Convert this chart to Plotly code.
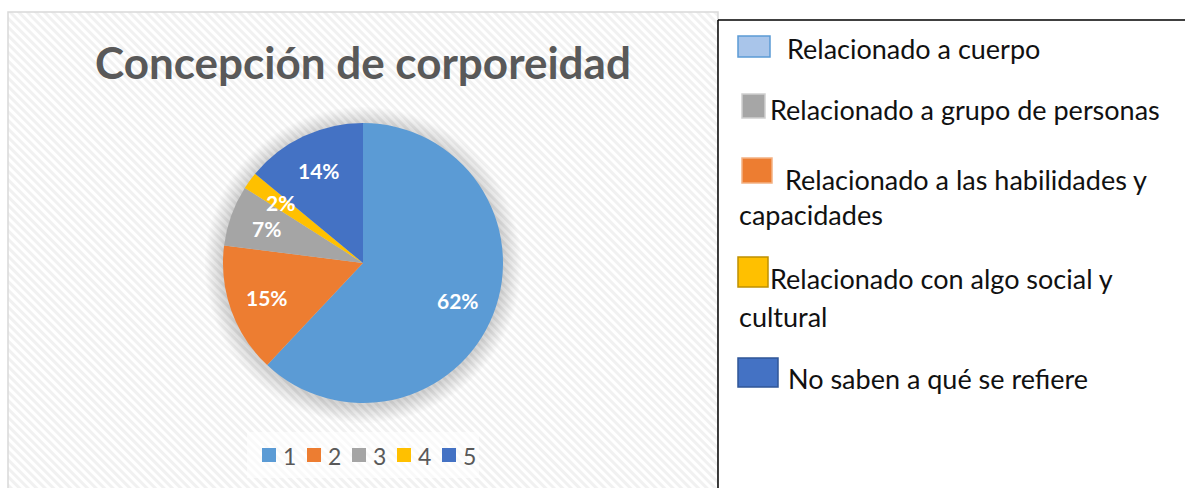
import base64
import math
import plotly.graph_objects as go

# ---------------- data ----------------
categories = ["1", "2", "3", "4", "5"]
values = [62, 15, 7, 2, 14]
colors = ["#5B9BD5", "#ED7D31", "#A5A5A5", "#FFC000", "#4472C4"]
title_text = "Concepción de corporeidad"
# right-hand key: text lines per entry (in display order)
key_texts = [
    ["Relacionado a cuerpo"],
    ["Relacionado a grupo de personas"],
    ["Relacionado a las habilidades y", "capacidades"],
    ["Relacionado con algo social y", "cultural"],
    ["No saben a qué se refiere"],
]
key_fills = ["#A9C5EA", "#A6A6A6", "#ED7D31", "#FFC000", "#4472C4"]
key_borders = ["#5B9BD5", "#D0D0D0", "#F4B183", "#BF9000", "#2F5597"]

# ---------------- geometry helpers ----------------
W, H = 1185, 488


def px(x):
    return x / W


def py(y):
    return 1 - y / H


cx, cy, r = 363, 263, 140
box_l, box_t, box_r = 8, 12, 718
font_fam = "Lato, 'Open Sans', sans-serif"

fig = go.Figure(
    go.Pie(
        labels=categories,
        values=values,
        sort=False,
        direction="clockwise",
        rotation=0,
        marker=dict(colors=colors, line=dict(width=0)),
        textinfo="none",
        hoverinfo="label+percent",
        showlegend=False,
        domain=dict(x=[px(cx - r), px(cx + r)], y=[py(cy + r), py(cy - r)]),
    )
)

# striped background for chart area
bw, bh = box_r - box_l, H - box_t
svg = (
    f'<svg xmlns="http://www.w3.org/2000/svg" width="{bw}" height="{bh}">'
    '<defs><pattern id="p" width="6" height="6" patternUnits="userSpaceOnUse" '
    'patternTransform="rotate(-45)">'
    '<rect width="6" height="6" fill="#ffffff"/>'
    '<rect width="3" height="6" fill="#f1f1f1"/></pattern></defs>'
    '<rect width="100%" height="100%" fill="url(#p)"/></svg>'
)
src = "data:image/svg+xml;base64," + base64.b64encode(svg.encode()).decode()
images = [
    dict(
        source=src, xref="paper", yref="paper",
        x=px(box_l), y=py(box_t), sizex=bw / W, sizey=bh / H,
        xanchor="left", yanchor="top", sizing="stretch", layer="below",
    )
]

shapes = []
# soft shadow around the pie
for k in range(1, 15):
    rr = r + k * 1.3
    shapes.append(dict(
        type="circle", xref="paper", yref="paper",
        x0=px(cx - rr), x1=px(cx + rr), y0=py(cy + rr + 2), y1=py(cy - rr + 2),
        fillcolor="rgba(0,0,0,0.011)", line=dict(width=0), layer="below",
    ))
# chart area border
shapes.append(dict(
    type="rect", xref="paper", yref="paper",
    x0=px(box_l), x1=px(box_r), y0=py(H + 5), y1=py(box_t),
    line=dict(color="#D9D9D9", width=1.5), fillcolor="rgba(0,0,0,0)", layer="above",
))
# right table
shapes.append(dict(type="rect", xref="paper", yref="paper",
                   x0=px(box_r), x1=px(W + 5), y0=py(H + 5), y1=py(20),
                   fillcolor="white", line=dict(width=0), layer="above"))
shapes.append(dict(type="line", xref="paper", yref="paper",
                   x0=px(box_r), x1=px(W + 5), y0=py(20), y1=py(20),
                   line=dict(color="black", width=1.5), layer="above"))
shapes.append(dict(type="line", xref="paper", yref="paper",
                   x0=px(box_r), x1=px(box_r), y0=py(20), y1=py(H + 5),
                   line=dict(color="black", width=1.5), layer="above"))

annotations = []
# title
annotations.append(dict(
    text=f"<b>{title_text}</b>", xref="paper", yref="paper",
    x=px(cx), y=py(62), xanchor="center", yanchor="middle", showarrow=False,
    font=dict(family=font_fam, size=44, color="#595959"),
))

# percentage labels computed from the data
total = sum(values)
cum = 0
for v in values:
    mid = (cum + v / 2) / total * 2 * math.pi
    cum += v
    lr = 0.73 * r
    lx = cx + lr * math.sin(mid)
    ly = cy - lr * math.cos(mid)
    annotations.append(dict(
        text=f"<b>{round(v / total * 100)}%</b>", xref="paper", yref="paper",
        x=px(lx), y=py(ly), xanchor="center", yanchor="middle", showarrow=False,
        font=dict(family=font_fam, size=21, color="white"),
    ))

# bottom legend (categories + colors)
leg_x0, leg_step, leg_y = 262, 45, 455
shapes.append(dict(type="rect", xref="paper", yref="paper",
                   x0=px(leg_x0 - 15), x1=px(leg_x0 + leg_step * len(categories) - 8),
                   y0=py(478), y1=py(432),
                   fillcolor="rgba(255,255,255,0.6)", line=dict(width=0), layer="above"))
for i, (cat, col) in enumerate(zip(categories, colors)):
    sx = leg_x0 + leg_step * i
    shapes.append(dict(type="rect", xref="paper", yref="paper",
                       x0=px(sx), x1=px(sx + 14), y0=py(leg_y + 7), y1=py(leg_y - 7),
                       fillcolor=col, line=dict(width=0), layer="above"))
    annotations.append(dict(
        text=cat, xref="paper", yref="paper", x=px(sx + 19), y=py(leg_y + 1),
        xanchor="left", yanchor="middle", showarrow=False,
        font=dict(family=font_fam, size=23, color="#595959"),
    ))

# right-hand key layout (square box, text start x, text line centers)
key_rows = [
    ((738, 36, 770, 57), 785, [48]),
    ((742, 94, 765, 118), 768, [109]),
    ((742, 158, 772, 183), 783, [179, 214]),
    ((738, 257, 768, 287), 768, [278, 316]),
    ((738, 358, 778, 387), 786, [378]),
]
for lines, (box, tx, tys), fc, bc in zip(key_texts, key_rows, key_fills, key_borders):
    x0, y0, x1, y1 = box
    shapes.append(dict(type="rect", xref="paper", yref="paper",
                       x0=px(x0), x1=px(x1), y0=py(y1), y1=py(y0),
                       fillcolor=fc, line=dict(color=bc, width=1.5), layer="above"))
    for i, (line, ty) in enumerate(zip(lines, tys)):
        annotations.append(dict(
            text=line, xref="paper", yref="paper",
            x=px(tx if i == 0 else 737), y=py(ty), xanchor="left", yanchor="middle",
            showarrow=False,
            font=dict(family=font_fam, size=27, color="#111111"),
        ))

fig.update_layout(
    width=W, height=H,
    margin=dict(l=0, r=0, t=0, b=0),
    paper_bgcolor="white",
    plot_bgcolor="white",
    images=images,
    shapes=shapes,
    annotations=annotations,
    showlegend=False,
)

fig.write_html(
    "out.html",
    config={"displayModeBar": False},
    post_script="document.body.style.margin='0';document.body.style.overflow='hidden';",
)
